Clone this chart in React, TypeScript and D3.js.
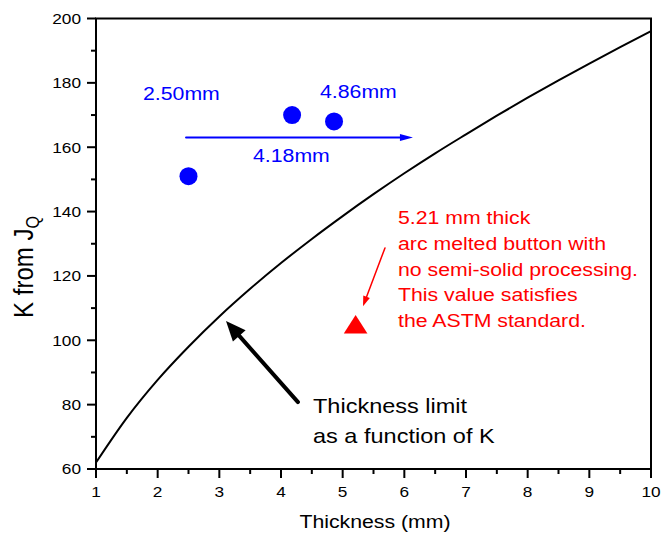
import React from 'react';
import * as d3 from 'd3';

// Thickness limit curve (thickness in mm, K)
const limitThickness = [1, 1.5, 2, 2.5, 3, 3.5, 4, 4.5, 5, 5.5, 6, 6.5, 7, 7.5, 8, 8.5, 9, 9.5, 10];
const limitK = [62.0, 75.9, 87.7, 98.0, 107.4, 116.0, 124.0, 131.5, 138.6, 145.4, 151.9, 158.1, 164.0, 169.8, 175.4, 180.8, 186.0, 191.1, 196.1];

// Semi-solid processed samples
const sampleThickness = [2.5, 4.18, 4.86];
const sampleK = [151, 170, 168];
const sampleLabels = ['2.50mm', '4.18mm', '4.86mm'];

// Arc melted button
const buttonThickness = 5.21;
const buttonK = 104;

const xTicks = [1, 2, 3, 4, 5, 6, 7, 8, 9, 10];
const yTicks = [60, 80, 100, 120, 140, 160, 180, 200];

const redNote = [
  '5.21 mm thick',
  'arc melted button with',
  'no semi-solid processing.',
  'This value satisfies',
  'the ASTM standard.',
];
const blackNote = ['Thickness limit', 'as a function of K'];

const W = 662;
const H = 537;
const FONT = 'Arial, "Liberation Sans", Helvetica, sans-serif';
const SX = 1.15;

function Label(props: {
  x: number; y: number; size: number; fill?: string; anchor?: string; sx?: number; children: React.ReactNode;
}) {
  const { x, y, size, fill = '#000', anchor = 'start', sx = SX, children } = props;
  return (
    <text
      transform={`translate(${x},${y}) scale(${sx},1)`}
      fontSize={size}
      fontFamily={FONT}
      fill={fill}
      textAnchor={anchor}
    >
      {children}
    </text>
  );
}

function arrowHead(x1: number, y1: number, x2: number, y2: number, len: number, half: number) {
  const a = Math.atan2(y2 - y1, x2 - x1);
  const bx = x2 - len * Math.cos(a);
  const by = y2 - len * Math.sin(a);
  const px = -Math.sin(a) * half;
  const py = Math.cos(a) * half;
  return {
    points: `${x2},${y2} ${bx + px},${by + py} ${bx - px},${by - py}`,
    bx: x2 - (len * 0.8) * Math.cos(a),
    by: y2 - (len * 0.8) * Math.sin(a),
  };
}

function Arrow(props: { from: [number, number]; to: [number, number]; color: string; width: number; len: number; half: number }) {
  const { from, to, color, width, len, half } = props;
  const h = arrowHead(from[0], from[1], to[0], to[1], len, half);
  return (
    <g>
      <line x1={from[0]} y1={from[1]} x2={h.bx} y2={h.by} stroke={color} strokeWidth={width} strokeLinecap="round" />
      <polygon points={h.points} fill={color} />
    </g>
  );
}

export default function App() {
  const x = d3.scaleLinear().domain([1, 10]).range([96, 651]);
  const y = d3.scaleLinear().domain([60, 200]).range([469, 18.5]);

  const line = d3
    .line<number>()
    .x((_, i) => x(limitThickness[i]))
    .y((d) => y(d))
    .curve(d3.curveMonotoneX);

  const xMinor = d3.range(1.5, 10, 1);
  const yMinor = d3.range(70, 200, 20);

  const tri = d3.symbol().type(d3.symbolTriangle).size(200)();

  return (
    <svg width={W} height={H} style={{ position: 'absolute', left: 0, top: 0, background: '#fff' }}>
      <rect x={0} y={0} width={W} height={H} fill="#fff" />

      {/* thickness limit curve */}
      <path d={line(limitK) || ''} fill="none" stroke="#000" strokeWidth={2} />

      {/* frame */}
      <rect x={x(1)} y={y(200)} width={x(10) - x(1)} height={y(60) - y(200)} fill="none" stroke="#000" strokeWidth={2} />

      {/* x axis ticks */}
      {xTicks.map((t) => (
        <g key={`xt${t}`}>
          <line x1={x(t)} x2={x(t)} y1={y(60)} y2={y(60) + 9} stroke="#000" strokeWidth={2} />
          <Label x={x(t)} y={497} size={15} anchor="middle">{t}</Label>
        </g>
      ))}
      {xMinor.map((t) => (
        <line key={`xm${t}`} x1={x(t)} x2={x(t)} y1={y(60)} y2={y(60) + 5} stroke="#000" strokeWidth={2} />
      ))}

      {/* y axis ticks */}
      {yTicks.map((t) => (
        <g key={`yt${t}`}>
          <line x1={x(1) - 9} x2={x(1)} y1={y(t)} y2={y(t)} stroke="#000" strokeWidth={2} />
          <Label x={81} y={y(t) + 5.4} size={15} anchor="end">{t}</Label>
        </g>
      ))}
      {yMinor.map((t) => (
        <line key={`ym${t}`} x1={x(1) - 5} x2={x(1)} y1={y(t)} y2={y(t)} stroke="#000" strokeWidth={2} />
      ))}

      {/* axis titles */}
      <Label x={375} y={528} size={18.5} anchor="middle">Thickness (mm)</Label>
      <text
        transform={`translate(33,267) scale(${SX},1) rotate(-90)`}
        fontSize={24}
        fontFamily={FONT}
        textAnchor="middle"
        fill="#000"
      >
        K from J
        <tspan fontSize={16} dy={5}>Q</tspan>
      </text>

      {/* semi-solid samples */}
      {sampleThickness.map((t, i) => (
        <circle key={`s${i}`} cx={x(t)} cy={y(sampleK[i])} r={9} fill="#0000ff" />
      ))}
      <Arrow from={[x(2.46), y(163)]} to={[x(6.14), y(163)]} color="#0000ff" width={2} len={13} half={3.5} />
      <Label x={143} y={100} size={18.5} fill="#0000ff">{sampleLabels[0]}</Label>
      <Label x={253} y={162} size={18.5} fill="#0000ff">{sampleLabels[1]}</Label>
      <Label x={320} y={98} size={18.5} fill="#0000ff">{sampleLabels[2]}</Label>

      {/* arc melted button */}
      <path d={tri || ''} transform={`translate(${x(buttonThickness)},${y(buttonK)}) scale(1.1,1)`} fill="#ff0000" />
      <Arrow from={[x(5.686), y(128.7)]} to={[x(5.33), y(110.6)]} color="#ff0000" width={1.5} len={10} half={3.5} />
      {redNote.map((s, i) => (
        <Label key={`r${i}`} x={398} y={224 + i * 25.8} size={18.5} fill="#ff0000">{s}</Label>
      ))}

      {/* thickness limit note */}
      <Arrow from={[x(4.275), y(80.8)]} to={[x(3.108), y(106.0)]} color="#000" width={4} len={20} half={8.5} />
      {blackNote.map((s, i) => (
        <Label key={`b${i}`} x={313} y={413 + i * 30} size={21} sx={1.12}>{s}</Label>
      ))}
    </svg>
  );
}
